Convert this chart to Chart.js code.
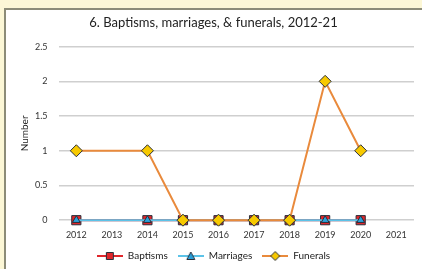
<!DOCTYPE html>
<html>
<head>
<meta charset="utf-8">
<script src="https://cdn.jsdelivr.net/npm/chart.js@4"></script>
<style>
  html, body { margin: 0; padding: 0; }
  body { width: 422px; height: 269px; background: #fcf7d6; position: relative; overflow: hidden; }
  #frame {
    position: absolute; left: 4px; top: 8px; width: 416px; height: 261px;
    background: #fff; border-left: 2px solid #8c8c78; border-top: 2px solid #8c8c78;
    border-right: 1px solid #d8d8d8;
  }
</style>
</head>
<body>
<div id="frame"><canvas id="chart" width="416" height="261"></canvas></div>
<script>
const YEARS = ['2012', '2013', '2014', '2015', '2016', '2017', '2018', '2019', '2020', '2021'];
const BAPTISMS  = [0, null, 0, 0, 0, 0, 0, 0, 0, null];
const MARRIAGES = [0, null, 0, 0, 0, 0, 0, 0, 0, null];
const FUNERALS  = [1, null, 1, 0, 0, 0, 0, 2, 1, null];

const FONT = 'Lato, "Open Sans", sans-serif';
const EDGE = '#2a2f3a';

// small line+marker swatch for the legend
function swatch(line, fill, style) {
  const c = document.createElement('canvas');
  c.width = 26; c.height = 12;
  const g = c.getContext('2d');
  g.strokeStyle = line; g.lineWidth = 2;
  g.beginPath(); g.moveTo(0, 6); g.lineTo(26, 6); g.stroke();
  g.fillStyle = fill; g.strokeStyle = EDGE; g.lineWidth = 1;
  g.beginPath();
  if (style === 'rect') g.rect(9.5, 2.5, 7, 7);
  else if (style === 'triangle') { g.moveTo(13, 2); g.lineTo(17, 9.5); g.lineTo(9, 9.5); g.closePath(); }
  else { g.moveTo(13, 1.5); g.lineTo(17.5, 6); g.lineTo(13, 10.5); g.lineTo(8.5, 6); g.closePath(); }
  g.fill(); g.stroke();
  return c;
}

const SERIES = [
  { label: 'Baptisms',  data: BAPTISMS,  line: '#e0262b', fill: '#e0262b', style: 'rect',     r: 6.5 },
  { label: 'Marriages', data: MARRIAGES, line: '#5cc3e8', fill: '#2a9fd8', style: 'triangle', r: 4.5 },
  { label: 'Funerals',  data: FUNERALS,  line: '#e98a3c', fill: '#f7c900', style: 'rectRot',  r: 6 }
];

new Chart(document.getElementById('chart'), {
  type: 'line',
  data: {
    labels: YEARS,
    datasets: SERIES.map((s, i) => ({
      label: s.label,
      data: s.data,
      borderColor: s.line,
      backgroundColor: s.fill,
      borderWidth: 2,
      pointStyle: s.style,
      pointRadius: s.r,
      pointBorderColor: EDGE,
      pointBorderWidth: 1,
      pointBackgroundColor: s.fill,
      spanGaps: true,
      clip: false,
      tension: 0,
      order: 3 - i
    }))
  },
  options: {
    responsive: false,
    animation: false,
    layout: { padding: { left: 7, right: 8, top: 3, bottom: 0 } },
    plugins: {
      title: {
        display: true,
        text: '6. Baptisms, marriages, & funerals, 2012-21',
        color: '#222',
        font: { family: FONT, size: 13, weight: 'normal' },
        padding: { top: 2, bottom: 16 }
      },
      legend: {
        position: 'bottom',
        labels: {
          usePointStyle: true,
          pointStyleWidth: 26,
          color: '#222',
          font: { family: FONT, size: 10 },
          padding: 10,
          generateLabels: chart => SERIES.map((s, i) => ({
            text: s.label,
            pointStyle: swatch(s.line, s.fill, s.style),
            datasetIndex: i,
            fontColor: '#222',
            lineWidth: 0
          }))
        }
      },
      tooltip: { enabled: false }
    },
    scales: {
      x: {
        offset: true,
        grid: { display: false },
        border: { display: false },
        ticks: { color: '#333', font: { family: FONT, size: 9 }, padding: 1, maxRotation: 0 }
      },
      y: {
        min: 0, max: 2.5,
        grid: { color: '#cfcfcf', lineWidth: 1.5, drawTicks: false },
        border: { display: false },
        ticks: {
          stepSize: 0.5, color: '#333', font: { family: FONT, size: 9 }, padding: 11,
          callback: v => String(Number(v))
        },
        title: {
          display: true, text: 'Number', color: '#222',
          font: { family: FONT, size: 10 }, padding: { top: 6, bottom: -7 }
        }
      }
    }
  }
});
</script>
</body>
</html>
